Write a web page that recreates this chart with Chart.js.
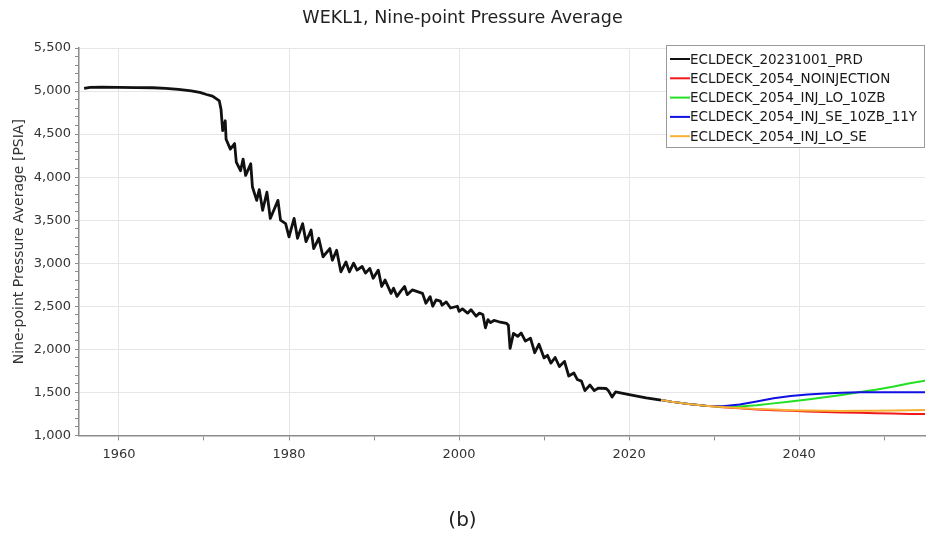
<!DOCTYPE html>
<html lang="en">
<head>
    <meta charset="UTF-8">
    <title>WEKL1, Nine-point Pressure Average</title>
    <script src="https://cdn.jsdelivr.net/npm/chart.js"></script>
    <style>
        html, body { margin: 0; padding: 0; background: #fff; }
        #wrap { width: 935px; height: 536px; }
    </style>
</head>
<body>
    <div id="wrap"><canvas id="myChart" width="935" height="536"></canvas></div>
    <script>
        // history (black)
        const prdYears = [
            1955.9, 1956.6, 1958.0, 1960.0, 1962.0, 1964.0, 1965.5, 1967.0, 1968.5, 1969.5,
            1970.3, 1971.0, 1971.6, 1971.8, 1972.0, 1972.2, 1972.5, 1972.6, 1973.1, 1973.6,
            1973.8, 1974.3, 1974.6, 1974.9, 1975.5, 1975.7, 1976.2, 1976.5, 1976.9, 1977.4,
            1977.8, 1978.7, 1979.0, 1979.6, 1980.0, 1980.6, 1981.0, 1981.6, 1982.0, 1982.6,
            1982.9, 1983.5, 1984.0, 1984.8, 1985.1, 1985.6, 1986.1, 1986.7, 1987.1, 1987.6,
            1988.0, 1988.6, 1989.0, 1989.5, 1989.9, 1990.5, 1990.9, 1991.3, 1992.0, 1992.3,
            1992.7, 1993.1, 1993.6, 1993.9, 1994.5, 1995.7, 1996.1, 1996.6, 1996.9, 1997.3,
            1997.8, 1998.0, 1998.5, 1999.0, 1999.8, 2000.0, 2000.4, 2001.0, 2001.4, 2002.0,
            2002.4, 2002.8, 2003.1, 2003.4, 2003.7, 2004.1, 2004.7, 2005.6, 2005.8, 2006.0,
            2006.4, 2006.9, 2007.3, 2007.8, 2008.4, 2008.9, 2009.4, 2010.0, 2010.4, 2010.8,
            2011.3, 2011.8, 2012.4, 2012.9, 2013.5, 2013.9, 2014.4, 2014.8, 2015.4, 2015.9,
            2016.4, 2017.3, 2017.6, 2018.0, 2018.4, 2020.0, 2022.0, 2023.75
        ];
        const prdPressure = [
            5030, 5042, 5046, 5043, 5040, 5038, 5032, 5020, 5002, 4985,
            4960, 4940, 4900, 4885, 4790, 4540, 4655, 4440, 4325, 4390,
            4175, 4075, 4210, 4020, 4155, 3885, 3730, 3855, 3615, 3825,
            3520, 3730, 3500, 3460, 3307, 3520, 3290, 3460, 3250, 3385,
            3170, 3290, 3075, 3170, 3035, 3150, 2900, 3015, 2900, 3000,
            2920, 2962, 2885, 2940, 2825, 2920, 2730, 2805, 2650, 2710,
            2615, 2670, 2730, 2635, 2690, 2650, 2535, 2612, 2500, 2575,
            2560, 2512, 2550, 2480, 2500, 2440, 2470, 2420, 2460, 2385,
            2420, 2405, 2250, 2345, 2310, 2335, 2320, 2300, 2280, 2010,
            2185, 2150, 2190, 2095, 2130, 1960, 2060, 1900, 1930, 1840,
            1905, 1800, 1860, 1690, 1725, 1650, 1630, 1520, 1585, 1520,
            1550, 1545, 1515, 1445, 1505, 1475, 1435, 1410
        ];

        // forecast cases
        const forecastYears = [2023.75, 2025, 2027, 2029, 2031, 2033, 2035, 2037, 2039, 2041, 2043, 2045, 2047, 2049, 2051, 2053, 2054.8];
        const noInjection  = [1410, 1390, 1365, 1345, 1328, 1314, 1302, 1293, 1285, 1278, 1272, 1267, 1262, 1258, 1254, 1250, 1248];
        const injLo10zb    = [1410, 1390, 1365, 1345, 1332, 1335, 1350, 1372, 1395, 1418, 1443, 1470, 1500, 1530, 1565, 1605, 1635];
        const injSe10zb11y = [1410, 1390, 1365, 1345, 1340, 1358, 1395, 1432, 1458, 1475, 1488, 1496, 1500, 1502, 1502, 1502, 1502];
        const injLoSe      = [1410, 1390, 1365, 1345, 1330, 1318, 1308, 1300, 1293, 1288, 1285, 1284, 1285, 1287, 1290, 1293, 1296];

        const seriesNames = ['ECLDECK_20231001_PRD', 'ECLDECK_2054_NOINJECTION', 'ECLDECK_2054_INJ_LO_10ZB', 'ECLDECK_2054_INJ_SE_10ZB_11Y', 'ECLDECK_2054_INJ_LO_SE'];
        const seriesColors = ['#111111', '#f01a1a', '#22e022', '#1010e0', '#f7b032'];

        const xTickLabels = [1960, 1980, 2000, 2020, 2040];
        const yTickLabels = [1000, 1500, 2000, 2500, 3000, 3500, 4000, 4500, 5000, 5500];

        function toPoints(xs, ys) {
            return xs.map((x, i) => ({ x: x, y: ys[i] }));
        }

        function lineSet(idx, xs, ys, width) {
            return {
                label: seriesNames[idx],
                data: toPoints(xs, ys),
                borderColor: seriesColors[idx],
                borderWidth: width,
                pointRadius: 0,
                tension: 0,
                borderJoinStyle: 'round'
            };
        }

        // boxed legend drawn inside the plot, top right
        const boxLegend = {
            id: 'boxLegend',
            afterDraw(chart) {
                const ctx = chart.ctx;
                const area = chart.chartArea;
                const w = 259, h = 103;
                const x0 = area.right - w, y0 = area.top - 3;
                ctx.save();
                ctx.fillStyle = '#ffffff';
                ctx.fillRect(x0, y0, w, h);
                ctx.strokeStyle = '#9a9a9a';
                ctx.lineWidth = 1;
                ctx.strokeRect(x0 + 0.5, y0 + 0.5, w - 1, h - 1);
                ctx.font = '13.5px "DejaVu Sans"';
                ctx.textBaseline = 'middle';
                seriesNames.forEach((name, i) => {
                    const y = y0 + 14 + i * 19.3;
                    ctx.strokeStyle = seriesColors[i];
                    ctx.lineWidth = 2;
                    ctx.beginPath();
                    ctx.moveTo(x0 + 4, y);
                    ctx.lineTo(x0 + 24, y);
                    ctx.stroke();
                    ctx.fillStyle = '#1a1a1a';
                    ctx.fillText(name, x0 + 24, y + 1);
                });
                ctx.restore();
            }
        };

        Chart.defaults.font.family = '"DejaVu Sans", sans-serif';

        const ctx = document.getElementById('myChart').getContext('2d');
        // first dataset is drawn on top
        const myChart = new Chart(ctx, {
            type: 'line',
            data: {
                datasets: [
                    lineSet(0, prdYears, prdPressure, 2.8),
                    lineSet(4, forecastYears, injLoSe, 2),
                    lineSet(3, forecastYears, injSe10zb11y, 2),
                    lineSet(2, forecastYears, injLo10zb, 2),
                    lineSet(1, forecastYears, noInjection, 2)
                ]
            },
            options: {
                responsive: false,
                animation: false,
                devicePixelRatio: 1,
                layout: { padding: { left: 0, right: 10, top: 0, bottom: 0 } },
                plugins: {
                    legend: { display: false },
                    tooltip: { enabled: false },
                    title: {
                        display: true,
                        text: 'WEKL1, Nine-point Pressure Average',
                        color: '#222',
                        font: { size: 17.5, weight: 'normal' },
                        padding: { top: 8, bottom: 19 }
                    },
                    subtitle: {
                        display: true,
                        position: 'bottom',
                        text: '(b)',
                        color: '#222',
                        font: { size: 20, weight: 'normal' },
                        padding: { top: 41, bottom: 3 }
                    }
                },
                scales: {
                    x: {
                        type: 'linear',
                        min: 1955.3,
                        max: 2054.8,
                        border: { color: '#8c8c8c', width: 1.5 },
                        grid: {
                            color: c => (c.tick && xTickLabels.includes(c.tick.value)) ? '#e6e6e6' : 'rgba(0,0,0,0)',
                            tickColor: '#8c8c8c',
                            tickLength: 5
                        },
                        ticks: {
                            stepSize: 10,
                            includeBounds: false,
                            autoSkip: false,
                            maxRotation: 0,
                            padding: 6,
                            color: '#333',
                            font: { size: 13 },
                            callback: v => xTickLabels.includes(v) ? String(v) : ''
                        }
                    },
                    y: {
                        min: 1000,
                        max: 5500,
                        afterFit: scale => { scale.width = 79; },
                        border: { color: '#8c8c8c', width: 1.5 },
                        grid: {
                            color: c => (c.tick && yTickLabels.includes(c.tick.value)) ? '#e6e6e6' : 'rgba(0,0,0,0)',
                            tickColor: '#8c8c8c',
                            tickLength: 4
                        },
                        ticks: {
                            stepSize: 100,
                            includeBounds: false,
                            autoSkip: false,
                            padding: 4,
                            color: '#333',
                            font: { size: 13 },
                            callback: v => yTickLabels.includes(v) ? v.toLocaleString('en-US') : ''
                        },
                        title: {
                            display: true,
                            text: 'Nine-point Pressure Average [PSIA]',
                            color: '#333',
                            font: { size: 14 },
                            padding: { top: 11, bottom: 0 }
                        }
                    }
                }
            },
            plugins: [boxLegend]
        });
    </script>
</body>
</html>
